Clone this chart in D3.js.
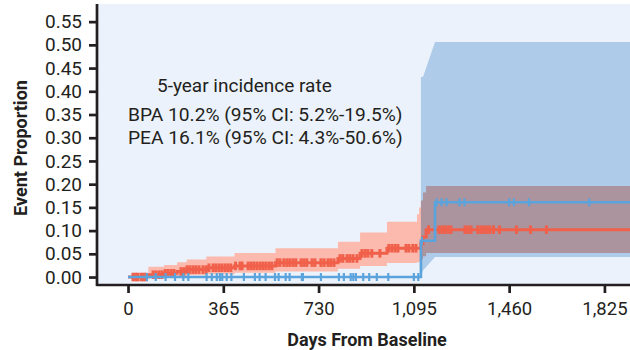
<!DOCTYPE html>
<html>
<head>
<meta charset="utf-8">
<script src="https://cdn.jsdelivr.net/npm/d3@7"></script>
<style>
  html, body { margin: 0; padding: 0; background: #ffffff; }
  svg { display: block; }
  text { font-family: Roboto, "Open Sans", sans-serif; fill: #231f20; }
</style>
</head>
<body>
<svg id="chart" width="630" height="350"></svg>
<script>
// ---------------- data ----------------
const xTickValues = [0, 365, 730, 1095, 1460, 1825];
const xTickLabels = ["0", "365", "730", "1,095", "1,460", "1,825"];
const yTickValues = [0, 0.05, 0.10, 0.15, 0.20, 0.25, 0.30, 0.35, 0.40, 0.45, 0.50, 0.55];
const yTickLabels = ["0.00", "0.05", "0.10", "0.15", "0.20", "0.25", "0.30", "0.35", "0.40", "0.45", "0.50", "0.55"];

const xTitle = "Days From Baseline";
const yTitle = "Event Proportion";
const noteTitle = "5-year incidence rate";
const noteLines = ["BPA 10.2% (95% CI: 5.2%-19.5%)", "PEA 16.1% (95% CI: 4.3%-50.6%)"];

// BPA (red): cumulative event proportion, step function
const bpaTimes = [0, 78, 138, 188, 225, 300, 408, 565, 804, 889, 992, 1122, 1130, 1142];
const bpaRisk  = [0, 0.005, 0.008, 0.012, 0.016, 0.020, 0.024, 0.031, 0.040, 0.051, 0.062, 0.072, 0.086, 0.102];
// BPA 95% CI band (step)
const bpaCiTimes = [0, 78, 138, 188, 225, 300, 408, 565, 804, 889, 992, 1107, 1115, 1122, 1130, 1142];
const bpaLower   = [0, 0.000, 0.001, 0.002, 0.004, 0.006, 0.009, 0.012, 0.018, 0.024, 0.030, 0.032, 0.033, 0.038, 0.045, 0.052];
const bpaUpper   = [0, 0.022, 0.026, 0.032, 0.038, 0.044, 0.052, 0.062, 0.076, 0.096, 0.119, 0.135, 0.150, 0.165, 0.182, 0.196];
// BPA censoring marks (days)
const bpaCensor = [19, 29, 38, 50, 59, 69, 96, 107, 119, 130, 142, 153, 165, 176, 203, 214,
  226, 237, 249, 260, 272, 287, 299, 310, 326, 337, 349, 360, 372, 383, 394, 412, 429, 437,
  460, 471, 482, 494, 506, 517, 528, 540, 551, 571, 582, 597, 609, 620, 632, 643, 663, 674,
  685, 705, 716, 739, 751, 766, 777, 789, 812, 823, 839, 850, 862, 877, 896, 908, 919, 934,
  965, 999, 1011, 1023, 1034, 1065, 1076, 1091, 1103, 1151, 1191, 1203, 1214, 1226, 1237,
  1291, 1302, 1314, 1340, 1352, 1363, 1375, 1386, 1400, 1423, 1488, 1542, 1603];

// PEA (blue)
const peaTimes = [0, 1122, 1176];
const peaRisk  = [0, 0.078, 0.161];
// PEA 95% CI band (vertices)
const peaCiTimes = [1122, 1130, 1176];
const peaLower   = [0.000, 0.014, 0.043];
const peaUpper   = [0.431, 0.431, 0.506];
const peaCensor = [72, 106, 144, 180, 212, 231, 301, 321, 340, 352, 361, 378, 396, 444, 486,
  504, 527, 563, 577, 604, 619, 666, 670, 739, 808, 827, 853, 863, 873, 901, 924, 953, 997,
  1095, 1112, 1126, 1182, 1201, 1221, 1270, 1289, 1460, 1478, 1536, 1767];

// ---------------- layout ----------------
const svg = d3.select("#chart");
const panel = { left: 98, right: 630, top: 4, bottom: 284 };
const xMax = 1923;
const x = d3.scaleLinear().domain([-115, xMax]).range([panel.left, panel.right]);
const y = d3.scaleLinear().domain([-0.015, 0.588]).range([panel.bottom, panel.top]);

const colors = {
  panel: "#ebf2fb",
  peaBand: "#aecbe9",
  bpaBand: "#fbbaad",
  pea: "#5ba3dc",
  bpa: "#f0604a",
  ink: "#231f20"
};

svg.append("rect")
  .attr("x", panel.left).attr("y", panel.top)
  .attr("width", panel.right - panel.left).attr("height", panel.bottom - panel.top)
  .attr("fill", colors.panel);

svg.append("defs").append("clipPath").attr("id", "clip")
  .append("rect")
  .attr("x", panel.left).attr("y", panel.top)
  .attr("width", panel.right - panel.left).attr("height", panel.bottom - panel.top);

const plot = svg.append("g").attr("clip-path", "url(#clip)").style("isolation", "isolate");

// helper: extend a series to the axis end
function rows(times, ...cols) {
  const r = times.map((t, i) => [t, ...cols.map(c => c[i])]);
  const last = r[r.length - 1];
  r.push([xMax, ...last.slice(1)]);
  return r;
}

// PEA CI band (linear vertices)
const peaBandRows = rows(peaCiTimes, peaLower, peaUpper);
plot.append("path")
  .datum(peaBandRows)
  .attr("fill", colors.peaBand)
  .attr("d", d3.area().x(d => x(d[0])).y0(d => y(d[1])).y1(d => y(d[2])).curve(d3.curveLinear));

// BPA CI band (step)
const bpaBandRows = rows(bpaCiTimes, bpaLower, bpaUpper);
plot.append("path")
  .datum(bpaBandRows)
  .attr("fill", colors.bpaBand)
  .style("mix-blend-mode", "multiply")
  .attr("d", d3.area().x(d => x(d[0])).y0(d => y(d[1])).y1(d => y(d[2])).curve(d3.curveStepAfter));

function stepValue(times, vals, t) {
  const i = d3.bisectRight(times, t) - 1;
  return vals[Math.max(0, i)];
}

// BPA line
const bpaRows = rows(bpaTimes, bpaRisk);
plot.append("path")
  .datum(bpaRows)
  .attr("fill", "none").attr("stroke", colors.bpa).attr("stroke-width", 3)
  .attr("d", d3.line().x(d => x(d[0])).y(d => y(d[1])).curve(d3.curveStepAfter));
plot.append("g").selectAll("line").data(bpaCensor).join("line")
  .attr("x1", d => x(d)).attr("x2", d => x(d))
  .attr("y1", d => y(stepValue(bpaTimes, bpaRisk, d)) - 4.3)
  .attr("y2", d => y(stepValue(bpaTimes, bpaRisk, d)) + 4.3)
  .attr("stroke", colors.bpa).attr("stroke-width", 3);

// PEA line
const peaRows = rows(peaTimes, peaRisk);
plot.append("path")
  .datum(peaRows)
  .attr("fill", "none").attr("stroke", colors.pea).attr("stroke-width", 2.6)
  .attr("d", d3.line().x(d => x(d[0])).y(d => y(d[1])).curve(d3.curveStepAfter));
plot.append("g").selectAll("line").data(peaCensor).join("line")
  .attr("x1", d => x(d)).attr("x2", d => x(d))
  .attr("y1", d => y(stepValue(peaTimes, peaRisk, d)) - 4)
  .attr("y2", d => y(stepValue(peaTimes, peaRisk, d)) + 4)
  .attr("stroke", colors.pea).attr("stroke-width", 2.2);

// ---------------- axes ----------------
const xAxis = d3.axisBottom(x).tickValues(xTickValues)
  .tickFormat((d, i) => xTickLabels[i]).tickSizeInner(8).tickSizeOuter(0).tickPadding(9);
const gx = svg.append("g").attr("transform", `translate(0,${panel.bottom + 1})`).call(xAxis);
gx.select(".domain").attr("stroke", colors.ink).attr("stroke-width", 2.7)
  .attr("d", `M${panel.left - 1.5},0H${panel.right}`);
gx.selectAll(".tick line").attr("stroke", colors.ink).attr("stroke-width", 2.7);
gx.selectAll(".tick text").attr("font-size", 18.5).attr("font-weight", 400).attr("fill", colors.ink)
  .style("font-family", 'Roboto, sans-serif');

const yAxis = d3.axisLeft(y).tickValues(yTickValues)
  .tickFormat((d, i) => yTickLabels[i]).tickSizeInner(8).tickSizeOuter(0).tickPadding(7);
const gy = svg.append("g").attr("transform", `translate(${panel.left - 1},0)`).call(yAxis);
gy.select(".domain").attr("stroke", colors.ink).attr("stroke-width", 2.7)
  .attr("d", `M0,${panel.top}V${panel.bottom + 2}`);
gy.selectAll(".tick line").attr("stroke", colors.ink).attr("stroke-width", 2.7);
gy.selectAll(".tick text").attr("font-size", 19).attr("font-weight", 400).attr("fill", colors.ink)
  .style("font-family", 'Roboto, sans-serif');

// titles
svg.append("text")
  .attr("x", 367).attr("y", 346)
  .attr("text-anchor", "middle")
  .attr("font-size", 18).attr("font-weight", "bold")
  .text(xTitle);

svg.append("text")
  .attr("transform", "translate(27,148) rotate(-90)")
  .attr("text-anchor", "middle")
  .attr("font-size", 18).attr("font-weight", "bold")
  .text(yTitle);

// annotation
svg.append("text")
  .attr("x", 157).attr("y", 92)
  .attr("font-size", 19).attr("font-weight", 400)
  .text(noteTitle);
noteLines.forEach((t, i) => {
  svg.append("text")
    .attr("x", 128).attr("y", 121 + i * 22.5)
    .attr("font-size", 19.2).attr("font-weight", 400)
    .text(t);
});
</script>
</body>
</html>
